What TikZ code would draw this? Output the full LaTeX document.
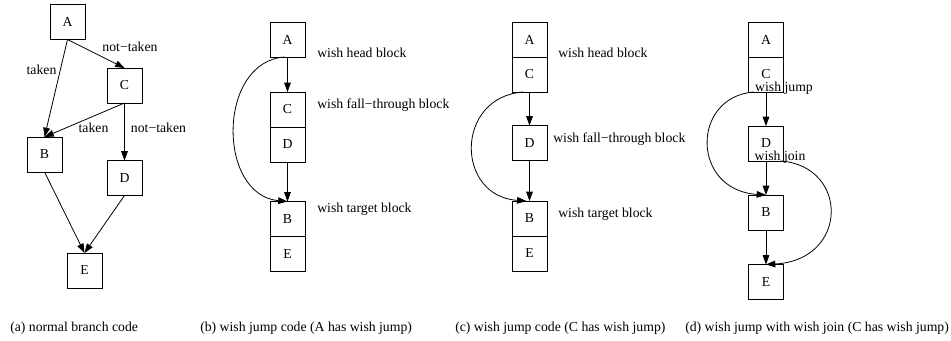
\documentclass[tikz,border=0pt]{standalone}
\usepackage{fontspec}
\setmainfont{Liberation Serif}
\usetikzlibrary{arrows.meta}

\tikzset{
  blk/.style={draw, rectangle, minimum width=26.25pt, minimum height=26.25pt,
    inner sep=0pt, outer sep=0pt, line width=0.6pt, font=\fontsize{10.3}{12}\selectfont},
  flow/.style={-{Triangle[length=7pt,width=5pt]}, line width=0.6pt},
  lbl/.style={inner sep=0pt, font=\fontsize{10.3}{12}\selectfont},
}

\begin{document}
\begin{tikzpicture}[x=0.75pt, y=-0.75pt]
  \useasboundingbox (0,0) rectangle (951,341);

  % (a) the plain branch graph
  \node[blk] (a-A) at (67.5,22) {A};
  \node[blk] (a-C) at (124.5,85.5) {C};
  \node[blk] (a-B) at (44.5,154.5) {B};
  \node[blk] (a-D) at (124.5,178) {D};
  \node[blk] (a-E) at (84.5,270.5) {E};
  \draw[flow] (a-A.south) -- (a-B.north);
  \draw[flow] (a-A.south) -- (a-C.north);
  \draw[flow] (a-C.south) -- (a-B.north);
  \draw[flow] (a-C.south) -- (a-D.north);
  \draw[flow] (a-B.south) -- (a-E.north);
  \draw[flow] (a-D.south) -- (a-E.north);
  \node[lbl] (a-tAB) at (41.5,70) {taken};
  \node[lbl] (a-nAC) at (130,47) {not−taken};
  \node[lbl] (a-tCB) at (93.5,128) {taken};
  \node[lbl] (a-nCD) at (158.5,128) {not−taken};

  % (b) A carries the wish jump
  \node[blk] (b-A) at (287.5,39.5) {A};
  \node[blk] (b-C) at (287.5,109.5) {C};
  \node[blk] (b-D) at (287.5,144.5) {D};
  \node[blk] (b-B) at (287.5,219) {B};
  \node[blk] (b-E) at (287.5,254) {E};
  \draw[flow] (b-A.south) -- (b-C.north);
  \draw[flow] (b-D.south) -- (b-B.north);
  \draw[flow] (b-A.260) .. controls (217,62) and (217,195) .. (b-B.north);
  \node[lbl, anchor=west] (b-head) at (317,53) {wish head block};
  \node[lbl, anchor=west] (b-fall) at (317,105) {wish fall−through block};
  \node[lbl, anchor=west] (b-targ) at (317,209) {wish target block};

  % (c) C carries the wish jump
  \node[blk] (c-A) at (529.5,39.5) {A};
  \node[blk] (c-C) at (529.5,74.5) {C};
  \node[blk] (c-D) at (529.5,143) {D};
  \node[blk] (c-B) at (529.5,218.5) {B};
  \node[blk] (c-E) at (529.5,253.5) {E};
  \draw[flow] (c-C.south) -- (c-D.north);
  \draw[flow] (c-D.south) -- (c-B.north);
  \draw[flow] (c-C.250) .. controls (455,97) and (455,196) .. (c-B.100);
  \node[lbl, anchor=west] (c-head) at (558,53) {wish head block};
  \node[lbl, anchor=west] (c-fall) at (553,139) {wish fall−through block};
  \node[lbl, anchor=west] (c-targ) at (558,214) {wish target block};

  % (d) wish jump plus wish join
  \node[blk] (d-A) at (766,39.5) {A};
  \node[blk] (d-C) at (766,74.5) {C};
  \node[blk] (d-D) at (766,143.5) {D};
  \node[blk] (d-B) at (766,212.5) {B};
  \node[blk] (d-E) at (766,282) {E};
  \draw[flow] (d-C.south) -- (d-D.north);
  \draw[flow] (d-D.south) -- (d-B.north);
  \draw[flow] (d-B.south) -- (d-E.north);
  \draw[flow] (d-C.235) .. controls (691,97) and (691,190) .. (d-B.north);
  \draw[flow] (d-D.310) .. controls (849,166) and (849,260) .. (d-E.north);
  \node[lbl] (d-jump) at (784,88) {wish jump};
  \node[lbl] (d-join) at (780,157) {wish join};

  % captions
  \node[lbl, anchor=west] (cap-a) at (10,328) {(a) normal branch code};
  \node[lbl, anchor=west] (cap-b) at (200,328) {(b) wish jump code (A has wish jump)};
  \node[lbl, anchor=west] (cap-c) at (455,328) {(c) wish jump code (C has wish jump)};
  \node[lbl, anchor=west] (cap-d) at (685,328) {(d) wish jump with wish join (C has wish jump)};
\end{tikzpicture}
\end{document}
